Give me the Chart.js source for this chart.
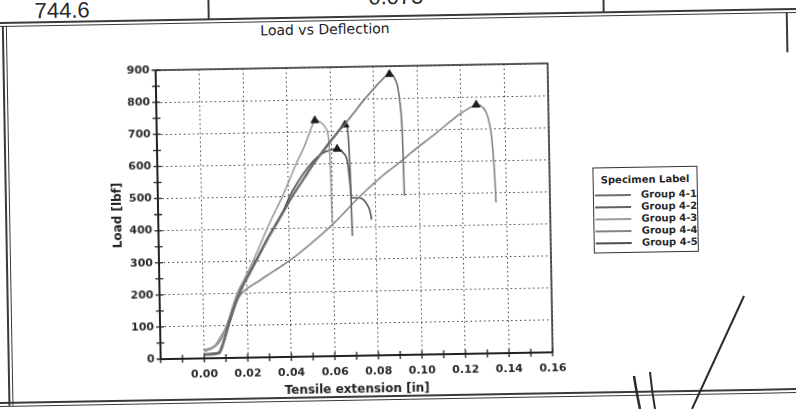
<!DOCTYPE html>
<html>
<head>
<meta charset="utf-8">
<script src="https://cdn.jsdelivr.net/npm/chart.js@4.4.1/dist/chart.umd.min.js"></script>
<style>
  html, body { margin: 0; padding: 0; background: #fff; }
  body { width: 796px; height: 409px; overflow: hidden; position: relative; font-family: "DejaVu Sans", sans-serif; color: #262626; }
  #page { position: absolute; left: 0; top: 0; width: 796px; height: 409px; transform: rotate(-1deg); transform-origin: 398px 204px; }
  #chart { position: absolute; left: 0; top: 0; }
  .hl { position: absolute; background: #3a3a3a; }
  .big { position: absolute; font-family: "Liberation Sans", sans-serif; font-size: 22px; line-height: 22px; color: #2a2a2a; }
  #title { position: absolute; left: 228px; width: 200px; top: 20px; text-align: center; font-size: 14px; color: #222; }
  #legend { position: absolute; left: 593px; top: 171px; width: 103px; height: 84px; border: 1.5px solid #333; background: #fff; }
  #legend .lt { text-align: center; font-weight: bold; font-size: 10px; margin-top: 6px; }
  #legend .row { position: relative; height: 12px; }
  #legend .row span.ln { position: absolute; left: 1px; top: 5px; width: 36px; height: 2px; }
  #legend .row span.tx { position: absolute; right: 0; top: 0; font-size: 10px; font-weight: bold; line-height: 12px; color: #2a2a2a; }
  svg { position: absolute; left: 0; top: 0; }
</style>
</head>
<body>
<div id="page">
  <div class="big" style="left:38px; top:-6px;">744.6</div>
  <div class="big" style="left:372px; top:-14px;">0.075</div>
  <div class="hl" style="left:211px; top:-6px; width:1.5px; height:22px;"></div>
  <div class="hl" style="left:606px; top:-6px; width:1.5px; height:22px;"></div>
  <div class="hl" style="left:-10px; top:15px; width:820px; height:2px;"></div>
  <div class="hl" style="left:-10px; top:19px; width:820px; height:1px;"></div>
  <div class="hl" style="left:5px; top:19px; width:2px; height:380px;"></div>
  <div class="hl" style="left:9px; top:19px; width:1px; height:380px;"></div>
  <div class="hl" style="left:789px; top:19px; width:1.5px; height:40px;"></div>
  <div class="hl" style="left:-10px; top:395px; width:820px; height:2px;"></div>
  <div class="hl" style="left:-10px; top:399px; width:820px; height:1px;"></div>
  <div id="title">Load vs Deflection</div>
  <canvas id="chart" width="796" height="409"></canvas>
  <div id="legend">
    <div class="lt">Specimen Label</div>
    <div id="rows" style="margin-top:4px;"></div>
  </div>
</div>
<svg width="796" height="409">
  <path d="M744 296 L692 409" stroke="#2b2b2b" stroke-width="2" fill="none"/>
  <path d="M634 376 Q637 395 640 409" stroke="#2b2b2b" stroke-width="2.5" fill="none"/>
  <path d="M650 372 Q652 392 655 409" stroke="#2b2b2b" stroke-width="2" fill="none"/>
</svg>
<script>
const groupNames = ['Group 4-1', 'Group 4-2', 'Group 4-3', 'Group 4-4', 'Group 4-5'];

// extension [in] / load [lbf]
const g41X = [0, 0.007, 0.009, 0.0115, 0.0145, 0.0175, 0.022, 0.026, 0.030, 0.034, 0.038, 0.042, 0.047, 0.052, 0.058, 0.064, 0.0705, 0.075, 0.079, 0.083, 0.0873, 0.0893, 0.091, 0.092, 0.0927, 0.093, 0.0932];
const g41Y = [10, 14, 45, 100, 160, 210, 265, 315, 365, 410, 455, 500, 550, 600, 652, 702, 755, 793, 823, 852, 875, 866, 835, 780, 700, 600, 495];

const g42X = [0, 0.0065, 0.0085, 0.011, 0.014, 0.017, 0.0215, 0.0255, 0.0295, 0.0335, 0.0375, 0.0415, 0.0465, 0.0515, 0.057, 0.062, 0.0665, 0.0675, 0.068, 0.0684, 0.0687, 0.069];
const g42Y = [14, 18, 45, 100, 160, 210, 265, 315, 365, 410, 455, 500, 550, 600, 648, 690, 720, 712, 670, 600, 500, 374];

const g43X = [0, 0.005, 0.008, 0.0105, 0.013, 0.0156, 0.0195, 0.0235, 0.0275, 0.032, 0.0368, 0.0405, 0.0437, 0.0475, 0.050, 0.0515, 0.0527, 0.0555, 0.0575, 0.0588, 0.0594, 0.0597, 0.0598];
const g43Y = [26, 40, 70, 100, 150, 200, 250, 305, 365, 430, 495, 550, 600, 652, 695, 720, 735, 728, 712, 680, 600, 500, 415];

const g44X = [0, 0.005, 0.008, 0.0105, 0.0135, 0.0165, 0.0196, 0.025, 0.030, 0.035, 0.040, 0.045, 0.050, 0.055, 0.060, 0.065, 0.070, 0.075, 0.080, 0.085, 0.090, 0.095, 0.100, 0.105, 0.110, 0.115, 0.120, 0.1245, 0.1269, 0.129, 0.1315, 0.133, 0.1338, 0.1345, 0.135, 0.1352];
const g44Y = [22, 36, 60, 100, 150, 190, 212, 235, 257, 278, 300, 325, 352, 380, 410, 443, 478, 510, 540, 568, 593, 620, 647, 672, 698, 725, 750, 768, 775, 772, 750, 710, 668, 600, 520, 470];

const g45X = [0, 0.007, 0.009, 0.0115, 0.0145, 0.0175, 0.0215, 0.0255, 0.0295, 0.0335, 0.0375, 0.0405, 0.0435, 0.0465, 0.0495, 0.0525, 0.0555, 0.0585, 0.0627, 0.0654, 0.0674, 0.0683, 0.0688, 0.071, 0.0735, 0.0755, 0.0772, 0.078];
const g45Y = [12, 16, 45, 100, 160, 210, 265, 315, 365, 410, 455, 500, 535, 565, 592, 614, 630, 640, 645, 633, 602, 540, 492, 492, 490, 476, 452, 423];

const seriesX = [g41X, g42X, g43X, g44X, g45X];
const seriesY = [g41Y, g42Y, g43Y, g44Y, g45Y];
const lineColors = ['#707070', '#626262', '#9d9d9d', '#858585', '#505050'];

const isMajorX = v => Math.round(v * 100) % 2 === 0;

const datasets = groupNames.map((name, i) => {
    const xs = seriesX[i], ys = seriesY[i];
    const peak = ys.indexOf(Math.max(...ys));
    return {
        label: name,
        data: xs.map((x, k) => ({ x, y: ys[k] })),
        showLine: true,
        borderColor: lineColors[i],
        borderWidth: 1.6,
        cubicInterpolationMode: 'monotone',
        pointStyle: 'triangle',
        pointRadius: ctx => ctx.dataIndex === peak ? 4.5 : 0,
        pointHoverRadius: 0,
        pointBackgroundColor: '#1c1c1c',
        pointBorderColor: '#1c1c1c',
        pointBorderWidth: 1
    };
});

// axis lines, top/right frame and tick marks that cross the axes
const framePlugin = {
    id: 'frame',
    afterDraw(chart) {
        const { ctx, chartArea: a, scales: { x, y } } = chart;
        ctx.save();
        ctx.setLineDash([]);
        ctx.strokeStyle = '#2a2a2a';
        ctx.lineWidth = 1.5;
        ctx.beginPath();
        ctx.moveTo(a.left, a.top);
        ctx.lineTo(a.right, a.top);
        ctx.lineTo(a.right, a.bottom);
        ctx.stroke();
        ctx.strokeStyle = '#222';
        ctx.lineWidth = 2;
        ctx.beginPath();
        ctx.moveTo(a.left, a.top);
        ctx.lineTo(a.left, a.bottom);
        ctx.lineTo(a.right, a.bottom);
        ctx.stroke();
        ctx.lineWidth = 1.3;
        ctx.beginPath();
        x.ticks.forEach(t => {
            const p = x.getPixelForValue(t.value);
            ctx.moveTo(p, a.bottom - 4);
            ctx.lineTo(p, a.bottom + 4);
        });
        y.ticks.forEach(t => {
            const p = y.getPixelForValue(t.value);
            ctx.moveTo(a.left - 4, p);
            ctx.lineTo(a.left + 4, p);
        });
        ctx.stroke();
        ctx.restore();
    }
};

const tickFont = { family: 'DejaVu Sans', size: 11, weight: 'bold' };
const titleFont = { family: 'DejaVu Sans', size: 12, weight: 'bold' };

new Chart(document.getElementById('chart'), {
    type: 'scatter',
    data: { datasets },
    options: {
        responsive: false,
        animation: false,
        devicePixelRatio: 1,
        layout: { padding: { left: 107, right: 246, top: 66, bottom: 9 } },
        plugins: { legend: { display: false }, tooltip: { enabled: false } },
        scales: {
            x: {
                type: 'linear',
                min: -0.02,
                max: 0.16,
                afterFit: s => { s.height = 45; },
                ticks: {
                    stepSize: 0.01,
                    autoSkip: false,
                    maxRotation: 0,
                    padding: 10,
                    color: '#2a2a2a',
                    font: tickFont,
                    callback: v => (isMajorX(v) && v > -0.015) ? Math.abs(v).toFixed(2) : ''
                },
                grid: {
                    drawTicks: false,
                    color: c => isMajorX(c.tick.value) ? '#3c3c3c' : 'rgba(0,0,0,0)',
                    lineWidth: 1
                },
                border: { display: false, dash: [1.5, 3] },
                title: { display: true, text: 'Tensile extension [in]', color: '#222', font: titleFont }
            },
            y: {
                min: 0,
                max: 900,
                afterFit: s => { s.width = 51; },
                ticks: {
                    stepSize: 50,
                    autoSkip: false,
                    padding: 6,
                    color: '#2a2a2a',
                    font: tickFont,
                    callback: v => v % 100 === 0 ? v : ''
                },
                grid: {
                    drawTicks: false,
                    color: c => c.tick.value % 100 === 0 ? '#3c3c3c' : 'rgba(0,0,0,0)',
                    lineWidth: 1
                },
                border: { display: false, dash: [1.5, 3] },
                title: { display: true, text: 'Load [lbf]', color: '#222', font: titleFont }
            }
        }
    },
    plugins: [framePlugin]
});

const rows = document.getElementById('rows');
groupNames.forEach((name, i) => {
    const r = document.createElement('div');
    r.className = 'row';
    r.innerHTML = `<span class="ln" style="background:${lineColors[i]}"></span><span class="tx">${name}</span>`;
    rows.appendChild(r);
});
</script>
</body>
</html>
